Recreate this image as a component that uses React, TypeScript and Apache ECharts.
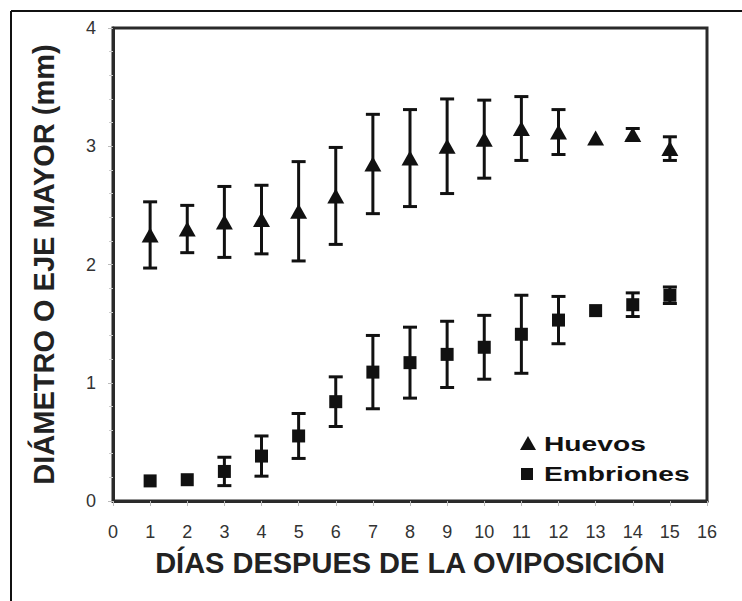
import React, { useEffect, useRef } from "react";
import * as echarts from "echarts";

// Días después de la oviposición
const days = [1, 2, 3, 4, 5, 6, 7, 8, 9, 10, 11, 12, 13, 14, 15];

// Huevos: media y desviación (mm)
const huevosMean = [2.25, 2.3, 2.36, 2.38, 2.45, 2.58, 2.85, 2.9, 3.0, 3.06, 3.15, 3.12, 3.07, 3.1, 2.98];
const huevosSD = [0.28, 0.2, 0.3, 0.29, 0.42, 0.41, 0.42, 0.41, 0.4, 0.33, 0.27, 0.19, 0, 0.05, 0.1];

// Embriones: media y desviación (mm)
const embrionesMean = [0.17, 0.18, 0.25, 0.38, 0.55, 0.84, 1.09, 1.17, 1.24, 1.3, 1.41, 1.53, 1.61, 1.66, 1.74];
const embrionesSD = [0, 0, 0.12, 0.17, 0.19, 0.21, 0.31, 0.3, 0.28, 0.27, 0.33, 0.2, 0, 0.1, 0.07];

const xTitle = "DÍAS DESPUES DE LA OVIPOSICIÓN";
const yTitle = "DIÁMETRO O EJE MAYOR (mm)";
const legendNames = ["Huevos", "Embriones"];

const FONT = "'Liberation Sans', Arial, Helvetica, sans-serif";
const INK = "#111";

function errorBarSeries(mean: number[], sd: number[]) {
  return {
    type: "custom",
    silent: true,
    z: 2,
    renderItem: (_params: any, api: any) => {
      const x = api.value(0);
      const lo = api.value(1);
      const hi = api.value(2);
      if (hi - lo <= 0) return { type: "group", children: [] };
      const top = api.coord([x, hi]);
      const bot = api.coord([x, lo]);
      const w = 7;
      const style = { stroke: INK, lineWidth: 3 };
      return {
        type: "group",
        children: [
          { type: "line", shape: { x1: top[0], y1: top[1], x2: bot[0], y2: bot[1] }, style },
          { type: "line", shape: { x1: top[0] - w, y1: top[1], x2: top[0] + w, y2: top[1] }, style },
          { type: "line", shape: { x1: bot[0] - w, y1: bot[1], x2: bot[0] + w, y2: bot[1] }, style },
        ],
      };
    },
    encode: { x: 0, y: [1, 2] },
    data: days.map((d, i) => [d, mean[i] - sd[i], mean[i] + sd[i]]),
  };
}

export default function App() {
  const ref = useRef<HTMLDivElement>(null);

  useEffect(() => {
    if (!ref.current) return;
    const chart = echarts.init(ref.current, undefined, { renderer: "svg" });

    const option: any = {
      animation: false,
      backgroundColor: "#ffffff",
      grid: {
        left: 113,
        right: 35,
        top: 28,
        bottom: 100,
        show: true,
        borderColor: "#2a2a2a",
        borderWidth: 3,
        backgroundColor: "transparent",
      },
      xAxis: {
        type: "value",
        min: 0,
        max: 16,
        interval: 1,
        name: xTitle,
        nameLocation: "middle",
        nameGap: 47,
        nameTextStyle: { fontSize: 29, fontWeight: "bold", color: "#222", fontFamily: FONT },
        axisLine: { show: true, onZero: false, lineStyle: { color: "#2a2a2a", width: 3 } },
        axisTick: { show: true, length: 5, lineStyle: { color: "#bbb", width: 1 } },
        axisLabel: { margin: 22, fontSize: 18, color: "#333", fontFamily: FONT },
        splitLine: { show: false },
      },
      yAxis: {
        type: "value",
        min: 0,
        max: 4,
        interval: 1,
        name: yTitle,
        nameLocation: "middle",
        nameGap: 55,
        nameTextStyle: { fontSize: 29, fontWeight: "bold", color: "#222", fontFamily: FONT },
        axisLine: { show: true, onZero: false, lineStyle: { color: "#2a2a2a", width: 3 } },
        axisTick: { show: true, length: 5, lineStyle: { color: "#bbb", width: 1 } },
        minorTick: { show: true, splitNumber: 5, length: 4, lineStyle: { color: "#ccc", width: 1 } },
        axisLabel: { margin: 17, fontSize: 18, color: "#333", fontFamily: FONT },
        splitLine: { show: false },
      },
      series: [
        errorBarSeries(huevosMean, huevosSD),
        errorBarSeries(embrionesMean, embrionesSD),
        {
          name: legendNames[0],
          type: "scatter",
          symbol: "triangle",
          symbolSize: [17, 15],
          itemStyle: { color: INK, opacity: 1 },
          z: 3,
          data: days.map((d, i) => [d, huevosMean[i]]),
        },
        {
          name: legendNames[1],
          type: "scatter",
          symbol: "rect",
          symbolSize: 13,
          itemStyle: { color: INK, opacity: 1 },
          z: 3,
          data: days.map((d, i) => [d, embrionesMean[i]]),
        },
      ],
      graphic: [
        // outer frame
        { type: "line", shape: { x1: 11, y1: 11, x2: 742, y2: 11 }, style: { stroke: INK, lineWidth: 2 } },
        { type: "line", shape: { x1: 11, y1: 11, x2: 11, y2: 601 }, style: { stroke: INK, lineWidth: 2 } },
        // legend
        {
          type: "polygon",
          shape: { points: [[528, 436], [536, 450], [520, 450]] },
          style: { fill: INK },
        },
        {
          type: "text",
          x: 544,
          y: 444,
          scaleX: 1.41,
          style: {
            text: legendNames[0],
            fontSize: 20,
            fontWeight: "bold",
            fontFamily: FONT,
            fill: INK,
            textAlign: "left",
            textVerticalAlign: "middle",
          },
        },
        {
          type: "rect",
          shape: { x: 521, y: 468, width: 12, height: 12 },
          style: { fill: INK },
        },
        {
          type: "text",
          x: 544,
          y: 474,
          scaleX: 1.41,
          style: {
            text: legendNames[1],
            fontSize: 20,
            fontWeight: "bold",
            fontFamily: FONT,
            fill: INK,
            textAlign: "left",
            textVerticalAlign: "middle",
          },
        },
      ],
    };

    chart.setOption(option);
    return () => chart.dispose();
  }, []);

  return (
    <div
      ref={ref}
      style={{ position: "absolute", left: 0, top: 0, width: 742, height: 601, background: "#fff" }}
    />
  );
}
